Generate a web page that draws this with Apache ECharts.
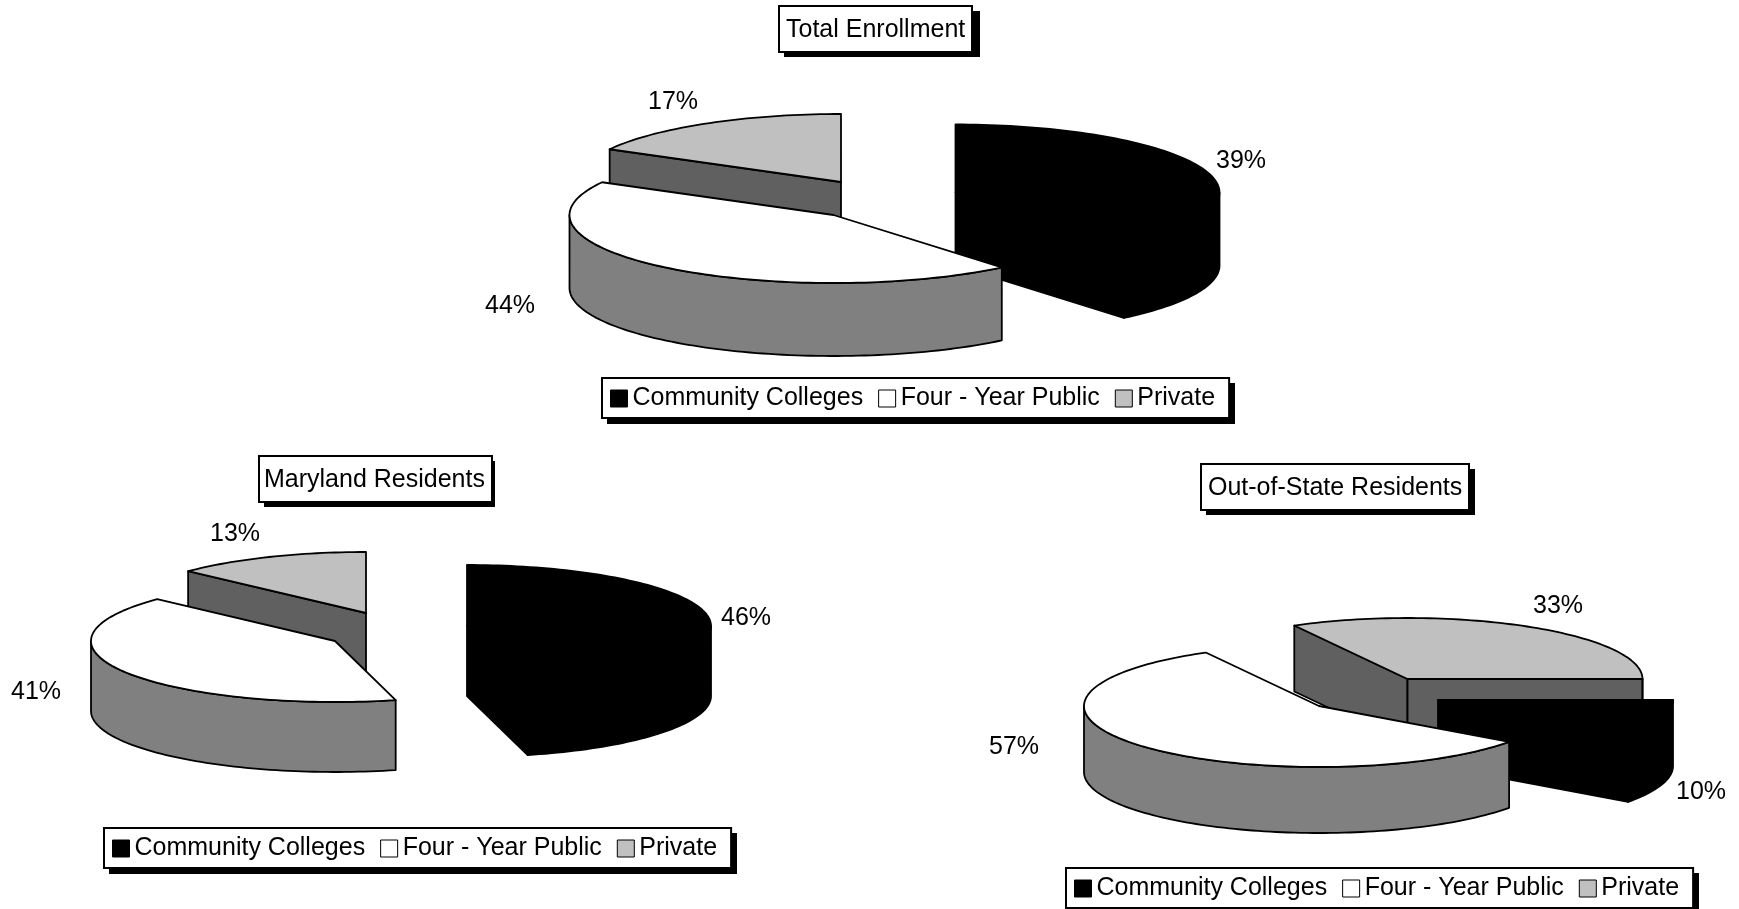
<!DOCTYPE html>
<html>
<head>
<meta charset="utf-8">
<style>html,body{margin:0;padding:0;background:#fff}#c{width:1739px;height:909px}</style>
<script src="https://cdn.jsdelivr.net/npm/echarts@6/dist/echarts.min.js"></script>
</head>
<body>
<div id="c"></div>
<script>
var categories = ['Community Colleges', 'Four - Year Public', 'Private'];
var chartTitles = ['Total Enrollment', 'Maryland Residents', 'Out-of-State Residents'];
var totalEnrollment = [39, 44, 17];
var marylandResidents = [46, 41, 13];
var outOfStateResidents = [10, 57, 33];
var allValues = [totalEnrollment, marylandResidents, outOfStateResidents];

var topColors = ['#000000', '#ffffff', '#c0c0c0'];
var sideColors = ['#000000', '#808080', '#606060'];
var FONT = '"Liberation Sans", Arial, sans-serif';
var FS = 25;

// Layout of each 3-D pie: ellipse radii, wall depth, first-slice angle, exploded slice centres and label anchors
var pies = [
  {start: 0, a: 264, b: 68, d: 73,
   centers: [[955.5, 192.5], [833.5, 215], [841, 182]],
   labels: [[1241, 161], [510, 306], [673, 102]]},
  {start: 0, a: 244, b: 61, d: 70,
   centers: [[467, 626], [335, 641], [366, 613]],
   labels: [[746, 618], [36, 692], [235, 534]]},
  {start: 90, a: 235, b: 61, d: 66,
   centers: [[1438, 700], [1319, 706], [1407.5, 679]],
   labels: [[1701, 792], [1014, 747], [1558, 606]]}
];
var titleBoxes = [
  {left: 779, top: 6, w: 196, h: 46, padLeft: 7},
  {left: 259, top: 456, w: 231, h: 46, padLeft: 5},
  {left: 1201, top: 464, w: 269, h: 46, padLeft: 7}
];
var legendBoxes = [
  {left: 602, top: 378, w: 628, h: 41},
  {left: 104, top: 828, w: 628, h: 41},
  {left: 1066, top: 868, w: 628, h: 41}
];
var SHADOW = 5;

function rim(c, p, deg, dy) {
  var r = deg * Math.PI / 180;
  return [c[0] + p.a * Math.sin(r), c[1] - p.b * Math.cos(r) + (dy || 0)];
}
function arc(c, p, from, to, dy) {
  var pts = [], n = Math.max(2, Math.ceil(Math.abs(to - from) / 1.5));
  for (var i = 0; i <= n; i++) pts.push(rim(c, p, from + (to - from) * i / n, dy));
  return pts;
}
function sliceSpan(pieIdx, catIdx) {
  var vals = allValues[pieIdx], sum = 0, before = 0;
  vals.forEach(function (v, i) { sum += v; if (i < catIdx) before += v; });
  var s = pies[pieIdx].start + before / sum * 360;
  return [s, s + vals[catIdx] / sum * 360];
}
function sliceRenderer(catIdx) {
  return function (params) {
    var pieIdx = params.dataIndex, p = pies[pieIdx], c = p.centers[catIdx];
    var span = sliceSpan(pieIdx, catIdx), s = span[0], e = span[1];
    var stroke = {stroke: '#000', lineWidth: 1.8, lineJoin: 'round', fill: sideColors[catIdx]};
    var children = [];
    function face(deg, normal) {
      if (Math.cos(normal * Math.PI / 180) < -1e-6) {
        var q = rim(c, p, deg);
        children.push({type: 'polygon', silent: true, style: stroke,
          shape: {points: [[c[0], c[1]], q, [q[0], q[1] + p.d], [c[0], c[1] + p.d]]}});
      }
    }
    face(s, s - 90);
    face(e, e + 90);
    [0, 360].forEach(function (k) {
      var lo = Math.max(s, 90 + k), hi = Math.min(e, 270 + k);
      if (hi > lo) {
        children.push({type: 'polygon', silent: true, style: stroke,
          shape: {points: arc(c, p, lo, hi, 0).concat(arc(c, p, hi, lo, p.d))}});
      }
    });
    children.push({type: 'polygon', silent: true,
      style: {stroke: '#000', lineWidth: 1.8, lineJoin: 'round', fill: topColors[catIdx]},
      shape: {points: [[c[0], c[1]]].concat(arc(c, p, s, e, 0))}});
    var lab = p.labels[catIdx];
    children.push({type: 'text', silent: true, z2: 10,
      style: {text: allValues[pieIdx][catIdx] + '%', x: lab[0], y: lab[1], align: 'center', verticalAlign: 'middle',
        font: FS + 'px ' + FONT, fill: '#000'}});
    return {type: 'group', children: children};
  };
}
var drawOrder = [2, 0, 1];
var option = {
  animation: false,
  backgroundColor: '#fff',
  graphic: titleBoxes.concat(legendBoxes).map(function (b) {
    return {type: 'rect', z: 1, silent: true, left: b.left + SHADOW, top: b.top + SHADOW,
      shape: {width: b.w, height: b.h}, style: {fill: '#000'}};
  }),
  title: chartTitles.map(function (t, i) {
    return {text: t, left: titleBoxes[i].left, top: titleBoxes[i].top, backgroundColor: '#fff',
      borderColor: '#000', borderWidth: 2, padding: [10, 7, 7, titleBoxes[i].padLeft],
      textStyle: {fontFamily: FONT, fontSize: FS, fontWeight: 'normal', color: '#000', lineHeight: 29}};
  }),
  legend: legendBoxes.map(function (b) {
    return {data: categories, left: b.left, top: b.top, orient: 'horizontal', icon: 'rect',
      itemWidth: 17, itemHeight: 17, itemGap: 15, padding: [8, 14, 7, 8], backgroundColor: '#fff',
      borderColor: '#000', borderWidth: 2, selectedMode: false,
      itemStyle: {borderColor: '#000', borderWidth: 1},
      textStyle: {fontFamily: FONT, fontSize: FS, color: '#000', padding: [3, 0, 0, 0]}};
  }),
  series: drawOrder.map(function (ci) {
    return {
      type: 'custom', name: categories[ci], coordinateSystem: 'none',
      itemStyle: {color: topColors[ci]},
      data: allValues.map(function (v) { return v[ci]; }),
      renderItem: sliceRenderer(ci)
    };
  })
};
var chart = echarts.init(document.getElementById('c'), null, {renderer: 'canvas'});
chart.setOption(option);
</script>
</body>
</html>
